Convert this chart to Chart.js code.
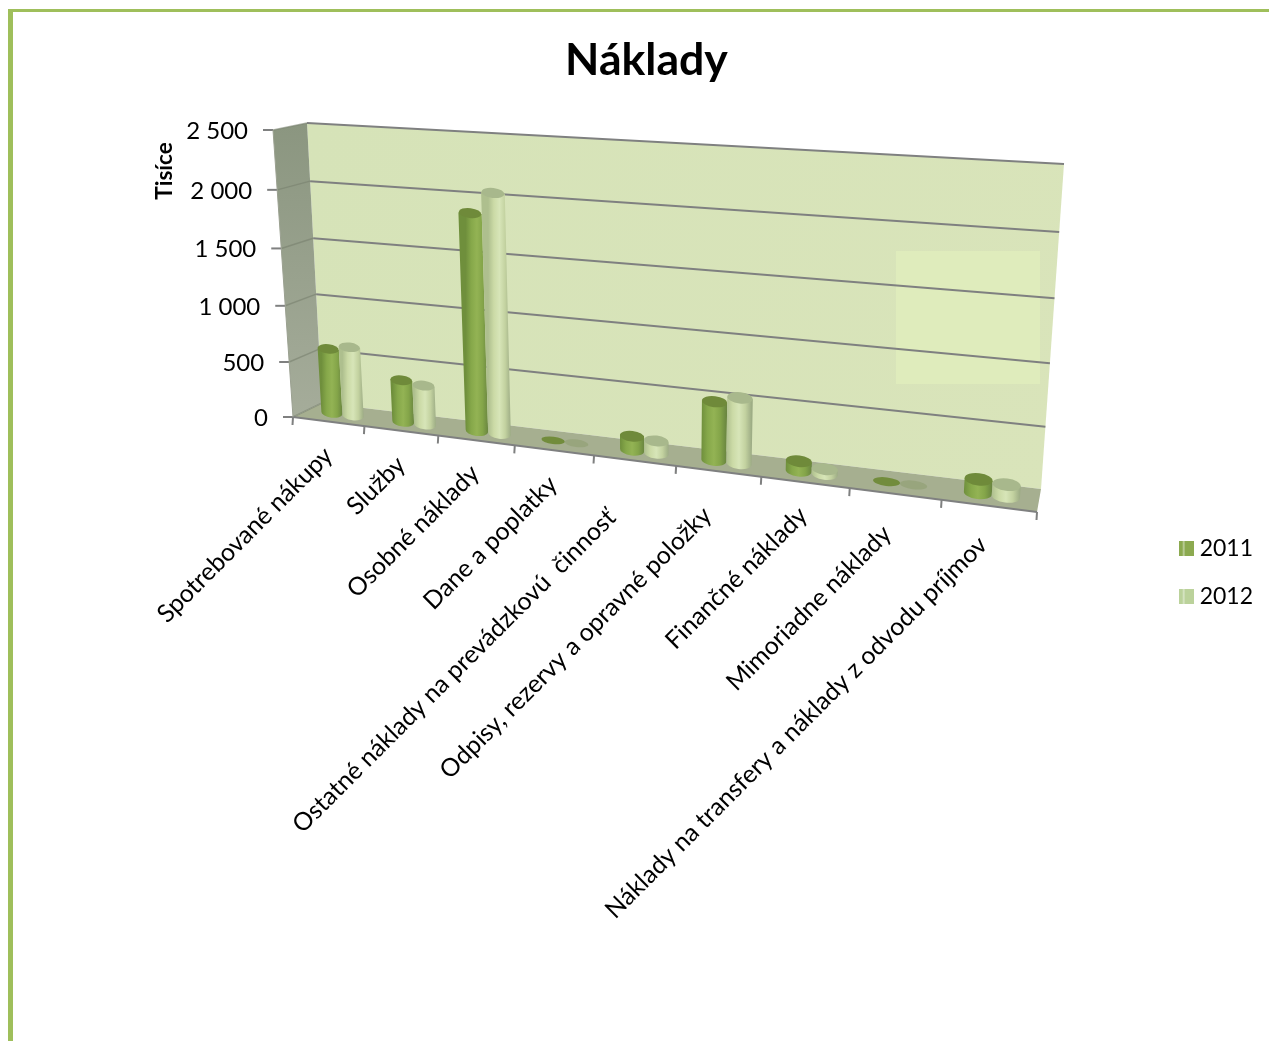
<!DOCTYPE html>
<html><head><meta charset="utf-8">
<style>
html,body{margin:0;padding:0;background:#fff;overflow:hidden}
#frame{position:absolute;left:8px;top:9px;width:1261px;height:1032px;border-top:3px solid #9fbf5b;border-left:5px solid #9fbf5b;box-sizing:border-box}
canvas{position:absolute;left:0;top:0}
</style>
<script src="https://cdn.jsdelivr.net/npm/chart.js@4"></script>
</head><body>
<div id="frame"></div>
<canvas id="c" width="1269" height="1041"></canvas>
<script>
const categories = ['Spotrebované nákupy','Služby','Osobné náklady','Dane a poplatky','Ostatné náklady na prevádzkovú  činnosť','Odpisy, rezervy a opravné položky','Finančné náklady','Mimoriadne náklady','Náklady na transfery a náklady z odvodu príjmov'];
const values2011 = [585, 375, 1875, 6, 120, 495, 80, 5, 110];
const values2012 = [620, 350, 2055, 2, 105, 550, 40, 1, 95];
const seriesNames = ['2011','2012'];
const yTicks = [0,500,1000,1500,2000,2500];
const yTickLabels = ['0','500','1 000','1 500','2 000','2 500'];
const yTitle = 'Tisíce';
const chartTitle = 'Náklady';

// 3D box seen by the camera: front and back planes (bottom-left, bottom-right, top-right, top-left)
const frontPlane = [[293,417],[1037,512],[1061,177],[273,130]];
const backPlane  = [[322,403],[1041,489],[1064,164],[307,123]];
function homography(q){
  const [[x0,y0],[x1,y1],[x2,y2],[x3,y3]] = q;
  const dx1=x1-x2,dx2=x3-x2,sx=x0-x1+x2-x3,dy1=y1-y2,dy2=y3-y2,sy=y0-y1+y2-y3;
  const den=dx1*dy2-dx2*dy1,g=(sx*dy2-dx2*sy)/den,h=(dx1*sy-sx*dy1)/den;
  const a=x1-x0+g*x1,b=x3-x0+h*x3,d=y1-y0+g*y1,e=y3-y0+h*y3;
  return (u,v)=>{const w=g*u+h*v+1;return [(a*u+b*v+x0)/w,(d*u+e*v+y0)/w];};
}
const planeAt = t => homography(frontPlane.map((p,i)=>[p[0]+(backPlane[i][0]-p[0])*t,p[1]+(backPlane[i][1]-p[1])*t]));
const F = planeAt(0), B = planeAt(1), M = planeAt(0.5);

function poly(ctx,pts){ctx.beginPath();pts.forEach((p,i)=>i?ctx.lineTo(p[0],p[1]):ctx.moveTo(p[0],p[1]));ctx.closePath();}
function line(ctx,a,b,col,w){ctx.strokeStyle=col;ctx.lineWidth=w;ctx.beginPath();ctx.moveTo(a[0],a[1]);ctx.lineTo(b[0],b[1]);ctx.stroke();}

const barStyles = [
  {stops:['#6f8f3c','#86a84a','#93b354','#84a549','#6a8640'],top:'#6f8a3a',flat:'#728c3c'},
  {stops:['#aebf8e','#cbdaa6','#d7e5b8','#c3d2a0','#9dac85'],top:'#a8b88c',flat:'rgba(140,156,110,0.55)'}
];
function cylinder(ctx,ul,ur,v,st){
  const um=(ul+ur)/2, bl=M(ul,0), br=M(ur,0), tl=M(ul,v), tr=M(ur,v), bc=M(um,0), tc=M(um,v);
  const w=Math.hypot(br[0]-bl[0],br[1]-bl[1]), rx=w/2, ry=w*0.22;
  const rot=Math.atan2(br[1]-bl[1],br[0]-bl[0]);
  if(v<0.01){ // practically zero: only the lid is visible
    ctx.fillStyle=st.flat;ctx.beginPath();ctx.ellipse(bc[0],bc[1],rx,ry*0.72,rot,0,Math.PI*2);ctx.fill();return;
  }
  const g=ctx.createLinearGradient(bl[0],bl[1],br[0],bl[1]);
  [0,0.25,0.5,0.75,1].forEach((o,i)=>g.addColorStop(o,st.stops[i]));
  ctx.fillStyle=g;
  ctx.beginPath();ctx.moveTo(tl[0],tl[1]);ctx.lineTo(bl[0],bl[1]);
  ctx.ellipse(bc[0],bc[1],rx,ry,rot,Math.PI,0,true);
  ctx.lineTo(tr[0],tr[1]);ctx.closePath();ctx.fill();
  ctx.fillStyle=st.top;ctx.beginPath();ctx.ellipse(tc[0],tc[1],rx,ry,rot,0,Math.PI*2);ctx.fill();
}

const scene = {
  id:'scene',
  beforeDatasetDraw(){return false;},
  beforeDatasetsDraw(chart){
    const ctx=chart.ctx,gc='#7f8080';
    ctx.save();ctx.lineCap='butt';
    const yS=chart.scales.y, vOf=val=>(yS.bottom-yS.getPixelForValue(val))/(yS.bottom-yS.top);
    // back wall
    const wg=ctx.createLinearGradient(307,123,1064,489);
    wg.addColorStop(0,'#d6e3b8');wg.addColorStop(1,'#d9e4ba');
    ctx.fillStyle=wg;poly(ctx,[B(0,0),B(1,0),B(1,1),B(0,1)]);ctx.fill();
    ctx.fillStyle='#dfecbc';ctx.fillRect(896,251,144,133);
    // side wall
    const sg=ctx.createLinearGradient(0,125,0,415);
    sg.addColorStop(0,'#8b9680');sg.addColorStop(1,'#a5ac9a');
    ctx.fillStyle=sg;poly(ctx,[F(0,0),F(0,1),B(0,1),B(0,0)]);ctx.fill();
    // floor
    ctx.fillStyle='#a6af90';poly(ctx,[F(0,0),F(1,0),B(1,0),B(0,0)]);ctx.fill();
    // gridlines, side and left ticks
    yTicks.forEach(t=>{
      const v=vOf(t);
      if(t>0) line(ctx,B(0,v),B(1,v),gc,2);
      line(ctx,F(0,v),B(0,v),'rgba(120,128,110,0.6)',1.5);
      const p=F(0,v);line(ctx,[p[0]-10,p[1]],p,gc,2);
    });
    // floor edges and category ticks
    line(ctx,F(0,0),F(1,0),gc,2);
    line(ctx,F(0,0),F(0,1),'#9aa090',1);
    for(let i=0;i<=categories.length;i++){
      const p=F(i/categories.length,0);line(ctx,p,[p[0]-0.5,p[1]+8],gc,2);
    }
    ctx.restore();
  },
  afterDatasetsDraw(chart){
    const ctx=chart.ctx,xS=chart.scales.x,yS=chart.scales.y;
    const uOf=x=>(x-xS.left)/(xS.right-xS.left), vOf=y=>(yS.bottom-y)/(yS.bottom-yS.top);
    ctx.save();
    categories.forEach((c,i)=>{
      chart.data.datasets.forEach((d,k)=>{
        const el=chart.getDatasetMeta(k).data[i];
        cylinder(ctx,uOf(el.x-el.width/2),uOf(el.x+el.width/2),vOf(el.y),barStyles[k]);
      });
    });
    ctx.restore();
  },
  afterDraw(chart){
    const ctx=chart.ctx,yS=chart.scales.y,xS=chart.scales.x;
    ctx.save();ctx.fillStyle='#000';
    // value axis labels
    ctx.font='24px Lato';ctx.textAlign='right';ctx.textBaseline='middle';
    yTicks.forEach((t,i)=>{
      const p=F(0,(yS.bottom-yS.getPixelForValue(t))/(yS.bottom-yS.top));
      ctx.fillText(yTickLabels[i],p[0]-25,p[1]+1);
    });
    // axis title
    ctx.save();ctx.translate(165,171);ctx.rotate(-Math.PI/2);ctx.font='bold 22.5px Lato';ctx.textAlign='center';ctx.fillText(yTitle,0,0);ctx.restore();
    // category labels, rotated
    const nudge=[[0,30],[0,30],[-1,29],[-1,30],[-23,53],[-11,40],[-2,29],[-8,36],[-6,35]];
    ctx.font='24.8px Lato';ctx.textAlign='right';
    categories.forEach((c,i)=>{
      const p=F((xS.getPixelForTick(i)-xS.left)/(xS.right-xS.left),0);
      ctx.save();ctx.translate(p[0]+nudge[i][0],p[1]+nudge[i][1]);ctx.rotate(-Math.PI/4);ctx.fillText(c,0,0);ctx.restore();
    });
    ctx.restore();
  }
};

function legendIcon(col){
  const c=document.createElement('canvas');c.width=15;c.height=15;
  const x=c.getContext('2d');x.fillStyle=col;x.fillRect(0,0,15,15);x.fillStyle='rgba(255,255,255,0.75)';x.fillRect(4.5,0,1,15);
  return c;
}
const legendColors=['#8caa50','#bbd29b'];
new Chart(document.getElementById('c'),{
  type:'bar',
  data:{labels:categories,datasets:[
    {label:seriesNames[0],data:values2011,backgroundColor:legendColors[0],categoryPercentage:0.6,barPercentage:1},
    {label:seriesNames[1],data:values2012,backgroundColor:legendColors[1],categoryPercentage:0.6,barPercentage:1}
  ]},
  plugins:[scene],
  options:{
    responsive:false,animation:false,
    layout:{padding:{left:30,right:6,top:30,bottom:0}},
    scales:{
      x:{grid:{display:false},border:{display:false},ticks:{display:false}},
      y:{min:0,max:2500,grid:{display:false},border:{display:false},ticks:{display:false,stepSize:500}}
    },
    plugins:{
      tooltip:{enabled:false},
      title:{display:true,text:chartTitle,color:'#000',font:{family:'Lato',size:44.6,weight:'bold'},padding:{top:4,bottom:25}},
      legend:{position:'right',fullSize:false,labels:{usePointStyle:true,boxWidth:4,boxHeight:15,padding:25,color:'#000',font:{family:'Lato',size:23},
        generateLabels:ch=>ch.data.datasets.map((d,i)=>({text:d.label,pointStyle:legendIcon(legendColors[i]),datasetIndex:i,fontColor:'#000',fillStyle:legendColors[i],lineWidth:0}))}}
    }
  }
});
</script>
</body></html>
